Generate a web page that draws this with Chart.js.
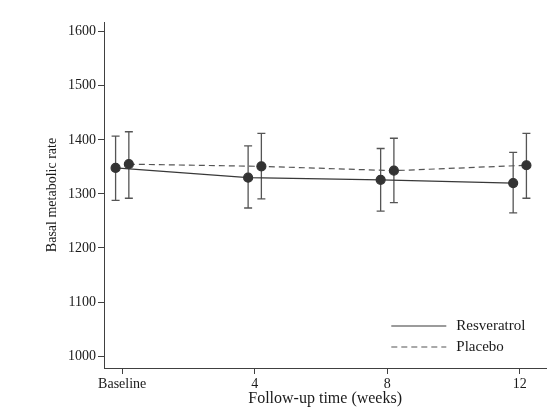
<!DOCTYPE html>
<html>
<head>
<meta charset="utf-8">
<script src="https://cdn.jsdelivr.net/npm/chart.js@4.4.0/dist/chart.umd.min.js"></script>
<style>
    html, body { margin: 0; padding: 0; background: #fff; }
</style>
</head>
<body>
<canvas id="lineChart" width="552" height="416"></canvas>
<script>
// follow-up weeks and labels
const weeks = [0, 4, 8, 12];
const weekLabels = ['Baseline', '4', '8', '12'];
const yTicks = [1000, 1100, 1200, 1300, 1400, 1500, 1600];

// means with 95% CI
const resveratrolMean = [1348, 1330, 1326, 1320];
const resveratrolLow  = [1288, 1274, 1268, 1265];
const resveratrolHigh = [1407, 1389, 1384, 1377];

const placeboMean = [1355, 1351, 1343, 1353];
const placeboLow  = [1292, 1291, 1284, 1292];
const placeboHigh = [1415, 1412, 1403, 1412];

const dodge = 0.2; // groups are shifted a little so bars don't overlap
const serif = "'Liberation Serif', 'DejaVu Serif', serif";
const ink = '#404040';

const errorBars = {
    id: 'errorBars',
    beforeDatasetsDraw(chart) {
        const ctx = chart.ctx;
        const xs = chart.scales.x, ys = chart.scales.y;
        ctx.save();
        ctx.strokeStyle = '#555';
        ctx.lineWidth = 1.3;
        chart.data.datasets.forEach(ds => {
            ds.data.forEach((p, j) => {
                const px = xs.getPixelForValue(p.x);
                const top = ys.getPixelForValue(ds.high[j]);
                const bot = ys.getPixelForValue(ds.low[j]);
                ctx.beginPath();
                ctx.moveTo(px, top); ctx.lineTo(px, bot);
                ctx.moveTo(px - 4, top); ctx.lineTo(px + 4, top);
                ctx.moveTo(px - 4, bot); ctx.lineTo(px + 4, bot);
                ctx.stroke();
            });
        });
        ctx.restore();
    }
};

// legend sits inside the plot, bottom right
const insideLegend = {
    id: 'insideLegend',
    afterDraw(chart) {
        const ctx = chart.ctx;
        const area = chart.chartArea;
        ctx.save();
        ctx.font = '15px ' + serif;
        ctx.textBaseline = 'middle';
        chart.data.datasets.forEach((ds, i) => {
            const y = area.bottom - 42 + i * 21;
            ctx.strokeStyle = ds.borderColor;
            ctx.lineWidth = 1.2;
            ctx.setLineDash(ds.borderDash || []);
            ctx.beginPath();
            ctx.moveTo(area.right - 155, y);
            ctx.lineTo(area.right - 100, y);
            ctx.stroke();
            ctx.setLineDash([]);
            ctx.fillStyle = '#1a1a1a';
            ctx.fillText(ds.label, area.right - 90, y);
        });
        ctx.restore();
    }
};

const ctx = document.getElementById('lineChart').getContext('2d');
const myChart = new Chart(ctx, {
    type: 'line',
    data: {
        datasets: [{
            label: 'Resveratrol',
            data: weeks.map((w, i) => ({ x: w - dodge, y: resveratrolMean[i] })),
            low: resveratrolLow,
            high: resveratrolHigh,
            borderColor: '#383838',
            borderWidth: 1.2,
            pointRadius: 4.5,
            pointBackgroundColor: '#333',
            pointBorderColor: '#333',
            tension: 0
        }, {
            label: 'Placebo',
            data: weeks.map((w, i) => ({ x: w + dodge, y: placeboMean[i] })),
            low: placeboLow,
            high: placeboHigh,
            borderColor: '#555',
            borderWidth: 1.2,
            borderDash: [6, 4],
            pointRadius: 4.5,
            pointBackgroundColor: '#333',
            pointBorderColor: '#333',
            tension: 0
        }]
    },
    options: {
        responsive: false,
        animation: false,
        layout: { padding: { top: 22, right: 4, left: 0, bottom: 0 } },
        plugins: {
            legend: { display: false },
            tooltip: { enabled: false }
        },
        scales: {
            x: {
                type: 'linear',
                min: -0.55,
                max: 12.8,
                afterBuildTicks: scale => { scale.ticks = weeks.map(v => ({ value: v })); },
                afterFit: scale => { scale.height = 48; },
                grid: { drawOnChartArea: false, tickLength: 6, color: ink },
                border: { color: ink, width: 1 },
                ticks: {
                    color: '#1a1a1a',
                    padding: 2,
                    maxRotation: 0,
                    font: { family: serif, size: 14 },
                    callback: (v, i) => weekLabels[i]
                },
                title: {
                    display: true,
                    text: 'Follow-up time (weeks)',
                    color: '#1a1a1a',
                    font: { family: serif, size: 16 },
                    padding: { top: 0, bottom: 8 }
                }
            },
            y: {
                min: 978,
                max: 1618,
                afterBuildTicks: scale => { scale.ticks = yTicks.map(v => ({ value: v })); },
                afterFit: scale => { scale.width = 104; },
                grid: { drawOnChartArea: false, tickLength: 6, color: ink },
                border: { color: ink, width: 1 },
                ticks: {
                    color: '#1a1a1a',
                    padding: 2,
                    font: { family: serif, size: 14 },
                    callback: v => String(v)
                },
                title: {
                    display: true,
                    text: 'Basal metabolic rate',
                    color: '#1a1a1a',
                    font: { family: serif, size: 14 },
                    padding: { top: 44, bottom: 0 }
                }
            }
        }
    },
    plugins: [errorBars, insideLegend]
});
</script>
</body>
</html>
